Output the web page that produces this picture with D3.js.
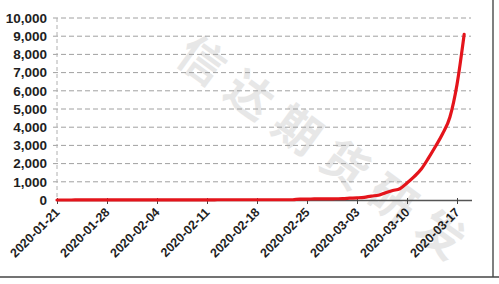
<!DOCTYPE html>
<html><head><meta charset="utf-8">
<script src="https://cdn.jsdelivr.net/npm/d3@7"></script>
<style>body{margin:0;background:#fff}svg{display:block}</style>
</head><body>
<svg id="c" width="499" height="284"></svg>
<script>
const dates = ["2020-01-21","2020-01-22","2020-01-23","2020-01-24","2020-01-25","2020-01-26","2020-01-27","2020-01-28","2020-01-29","2020-01-30","2020-01-31",
"2020-02-01","2020-02-02","2020-02-03","2020-02-04","2020-02-05","2020-02-06","2020-02-07","2020-02-08","2020-02-09","2020-02-10","2020-02-11","2020-02-12","2020-02-13","2020-02-14","2020-02-15","2020-02-16","2020-02-17","2020-02-18","2020-02-19","2020-02-20","2020-02-21","2020-02-22","2020-02-23","2020-02-24","2020-02-25","2020-02-26","2020-02-27","2020-02-28","2020-02-29",
"2020-03-01","2020-03-02","2020-03-03","2020-03-04","2020-03-05","2020-03-06","2020-03-07","2020-03-08","2020-03-09","2020-03-10","2020-03-11","2020-03-12","2020-03-13","2020-03-14","2020-03-15","2020-03-16","2020-03-17","2020-03-18"];
const cases = [1,1,1,2,2,5,5,5,5,5,7,
8,8,11,11,11,11,11,11,11,11,12,12,13,13,13,13,13,13,13,13,15,15,15,51,51,57,58,60,68,
74,98,118,149,217,262,402,518,620,930,1281,1700,2300,2950,3650,4550,6350,9100];
const xTicks = ["2020-01-21","2020-01-28","2020-02-04","2020-02-11","2020-02-18","2020-02-25","2020-03-03","2020-03-10","2020-03-17"];
const yTicks = [0,1000,2000,3000,4000,5000,6000,7000,8000,9000,10000];
const watermark = "信达期货研发";

const parse = d3.utcParse("%Y-%m-%d");
const data = dates.map((d,i)=>({date:parse(d), v:cases[i]}));
const svg = d3.select("#c");

const x = d3.scaleUtc().domain([parse("2020-01-21"), parse("2020-03-19")]).range([57, 471.3]);
const y = d3.scaleLinear().domain([0,10000]).range([200,18]);

// watermark
const wm = svg.append("g").attr("transform","translate(184,46) rotate(36)");
wm.append("text").text(watermark)
  .attr("x",0).attr("y",18)
  .attr("font-family","Noto Sans CJK SC").attr("font-weight","bold")
  .attr("font-size",46).attr("letter-spacing",13)
  .attr("fill","#e7e7e7");

// gridlines
svg.append("g").selectAll("line").data(yTicks.filter(d=>d>0)).join("line")
  .attr("x1",53).attr("x2",471).attr("y1",d=>y(d)).attr("y2",d=>y(d))
  .attr("stroke","#a0a0a0").attr("stroke-width",1).attr("stroke-dasharray","5,3");
// dashed y axis
svg.append("line").attr("x1",57).attr("x2",57).attr("y1",y(10000)).attr("y2",200)
  .attr("stroke","#b0b0b0").attr("stroke-dasharray","4,3");

// y labels
svg.append("g").selectAll("text").data(yTicks).join("text")
  .attr("x",47).attr("y",d=>y(d)).attr("dy","0.36em").attr("text-anchor","end")
  .attr("font-family","Liberation Sans, Arial, sans-serif").attr("font-weight","bold")
  .attr("font-size",13.5).attr("fill","#1e1e1e")
  .text(d=>d3.format(",")(d));

// x axis
const xa = svg.append("g").attr("transform","translate(0,200)")
  .call(d3.axisBottom(x).tickValues(xTicks.map(parse)).tickSize(5).tickFormat(d3.utcFormat("%Y-%m-%d")));
xa.select(".domain").attr("stroke","#555").attr("stroke-width",1.3).attr("d","M57,0.5H472");
xa.selectAll(".tick line").attr("stroke","#444").attr("y1",-2).attr("y2",4);
xa.selectAll(".tick text")
  .attr("font-family","Liberation Sans, Arial, sans-serif").attr("font-weight","bold")
  .attr("font-size",12.5).attr("fill","#1e1e1e")
  .attr("text-anchor","end").attr("dy",0).attr("dx",0)
  .attr("transform","translate(3,13) rotate(-45)").attr("y",0).attr("x",0);

// line
svg.append("path").datum(data)
  .attr("d", d3.line().curve(d3.curveMonotoneX).x(d=>x(d.date)).y(d=>y(d.v)))
  .attr("fill","none").attr("stroke","#e4141b").attr("stroke-width",3.2)
  .attr("stroke-linejoin","round").attr("stroke-linecap","round");

// frame
svg.append("line").attr("x1",493).attr("x2",493).attr("y1",0).attr("y2",277)
  .attr("stroke","#555").attr("stroke-width",1.5);
svg.append("line").attr("x1",0).attr("x2",499).attr("y1",277).attr("y2",277)
  .attr("stroke","#444").attr("stroke-width",1.5);
</script>
</body></html>
